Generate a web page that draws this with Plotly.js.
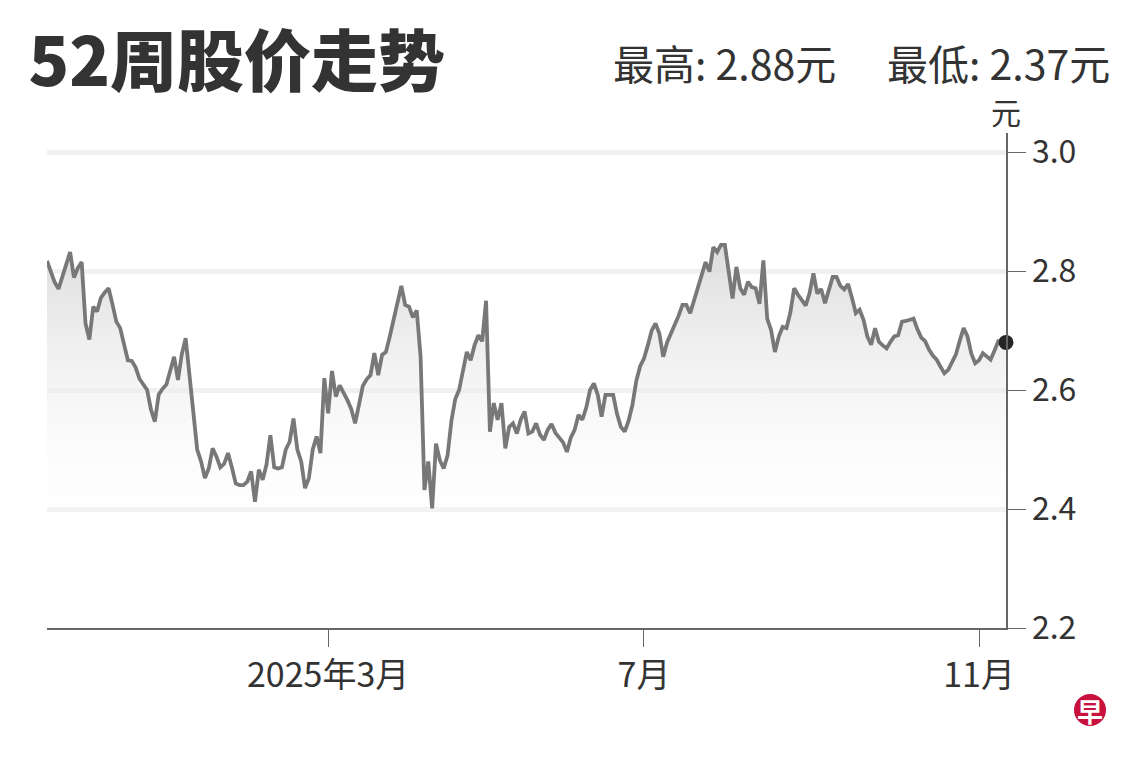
<!DOCTYPE html>
<html>
<head>
<meta charset="utf-8">
<script src="https://cdn.plot.ly/plotly-3.0.1.min.js"></script>
<style>html,body{margin:0;padding:0;background:#fff;}#chart{width:1140px;height:760px;}</style>
</head>
<body>
<div id="chart"></div>
<script>
// Daily closing prices (trading days, 52 weeks)
const prices = [
2.817,2.797,2.781,2.770,2.790,2.812,2.832,2.789,2.805,2.815,
2.712,2.685,2.740,2.732,2.755,2.764,2.771,2.744,2.715,2.704,
2.675,2.650,2.649,2.638,2.619,2.608,2.600,2.567,2.547,2.592,
2.602,2.609,2.633,2.656,2.617,2.660,2.687,2.625,2.560,2.500,
2.480,2.452,2.468,2.502,2.488,2.470,2.476,2.494,2.470,2.443,
2.440,2.440,2.446,2.463,2.412,2.466,2.449,2.475,2.524,2.470,
2.468,2.470,2.500,2.513,2.552,2.500,2.480,2.435,2.452,2.500,
2.522,2.494,2.620,2.561,2.632,2.589,2.608,2.596,2.583,2.568,
2.544,2.575,2.607,2.618,2.625,2.662,2.625,2.659,2.664,2.690,
2.717,2.750,2.775,2.743,2.740,2.722,2.734,2.656,2.432,2.480,
2.401,2.510,2.482,2.468,2.490,2.548,2.585,2.600,2.632,2.664,
2.650,2.675,2.692,2.682,2.750,2.530,2.578,2.550,2.578,2.502,
2.538,2.544,2.527,2.550,2.564,2.527,2.530,2.544,2.525,2.516,
2.533,2.543,2.528,2.519,2.512,2.496,2.520,2.533,2.558,2.550,
2.570,2.600,2.611,2.592,2.555,2.592,2.592,2.592,2.560,2.538,
2.530,2.548,2.575,2.615,2.640,2.653,2.675,2.700,2.712,2.695,
2.656,2.680,2.695,2.709,2.725,2.743,2.743,2.729,2.750,2.770,
2.790,2.815,2.799,2.840,2.832,2.844,2.844,2.797,2.754,2.807,
2.771,2.760,2.782,2.773,2.771,2.745,2.818,2.720,2.701,2.664,
2.690,2.706,2.704,2.730,2.771,2.760,2.752,2.742,2.763,2.796,
2.762,2.770,2.746,2.768,2.790,2.790,2.775,2.769,2.778,2.755,
2.729,2.735,2.718,2.690,2.676,2.704,2.681,2.675,2.670,2.681,
2.690,2.692,2.715,2.716,2.718,2.720,2.702,2.688,2.682,2.668,
2.658,2.651,2.639,2.628,2.634,2.646,2.660,2.683,2.704,2.690,
2.661,2.645,2.650,2.662,2.656,2.651,2.666,2.682,2.682,2.680
];
// Trading-day positions of month ticks and their labels
const monthTickIdx = [73, 155, 242];
const monthTickText = ['2025年3月', '7月', '11月'];
const priceTicks = [2.2, 2.4, 2.6, 2.8, 3.0];
const priceTickText = ['2.2', '2.4', '2.6', '2.8', '3.0'];
const titleText = '52周股价走势';
const highText = '最高: 2.88元';
const lowText = '最低: 2.37元';
const unitText = '元';

const font = '"Noto Sans CJK SC", "Noto Sans", sans-serif';
const lastIdx = prices.length - 1;

const traces = [
  {
    y: prices,
    type: 'scatter',
    mode: 'lines',
    line: {color: '#787878', width: 3.8},
    fill: 'tozeroy',
    fillgradient: {
      type: 'vertical',
      start: 2.33,
      stop: 2.86,
      colorscale: [[0, 'rgba(255,255,255,0)'], [1, 'rgba(216,216,216,0.95)']]
    },
    hoverinfo: 'skip'
  },
  {
    x: [lastIdx],
    y: [prices[lastIdx]],
    type: 'scatter',
    mode: 'markers',
    marker: {color: '#262626', size: 15},
    cliponaxis: false,
    hoverinfo: 'skip'
  }
];

const layout = {
  width: 1140,
  height: 760,
  paper_bgcolor: '#ffffff',
  plot_bgcolor: '#ffffff',
  showlegend: false,
  margin: {l: 47, r: 134, t: 133, b: 132},
  font: {family: font, color: '#333333'},
  title: {
    text: titleText,
    xref: 'container', yref: 'container',
    x: 0.025, xanchor: 'left',
    y: 0.948, yanchor: 'top',
    font: {family: font, size: 67, color: '#333333', weight: 900}
  },
  xaxis: {
    range: [0, lastIdx],
    tickmode: 'array',
    tickvals: monthTickIdx,
    ticktext: monthTickText,
    ticks: 'outside',
    ticklen: 17,
    tickwidth: 1,
    tickcolor: '#666666',
    showline: true,
    linecolor: '#666666',
    linewidth: 1.5,
    showgrid: false,
    zeroline: false,
    tickfont: {family: font, size: 34, color: '#333333'}
  },
  yaxis: {
    side: 'right',
    range: [2.2, 3.032],
    tickmode: 'array',
    tickvals: priceTicks,
    ticktext: priceTickText,
    ticks: 'outside',
    ticklen: 18,
    tickwidth: 1,
    tickcolor: '#666666',
    showline: true,
    linecolor: '#666666',
    linewidth: 1.5,
    showgrid: true,
    gridcolor: '#f1f1f1',
    gridwidth: 5,
    zeroline: false,
    tickfont: {family: font, size: 32, color: '#333333'}
  },
  annotations: [
    {
      text: highText,
      xref: 'paper', yref: 'paper',
      x: (838 - 47) / 959, xanchor: 'right',
      y: 1.143, yanchor: 'middle',
      showarrow: false,
      font: {family: font, size: 41, color: '#333333'}
    },
    {
      text: lowText,
      xref: 'paper', yref: 'paper',
      x: (1112 - 47) / 959, xanchor: 'right',
      y: 1.143, yanchor: 'middle',
      showarrow: false,
      font: {family: font, size: 41, color: '#333333'}
    },
    {
      text: unitText,
      xref: 'paper', yref: 'paper',
      x: 1.0, xanchor: 'center',
      y: 0.996, yanchor: 'bottom',
      showarrow: false,
      font: {family: font, size: 30, color: '#333333'}
    },
    {
      text: '早',
      xref: 'paper', yref: 'paper',
      x: 1.0876, xanchor: 'center',
      y: -0.166, yanchor: 'middle',
      showarrow: false,
      font: {family: font, size: 26, color: '#ffffff', weight: 700}
    }
  ],
  shapes: [
    {
      type: 'circle',
      xref: 'paper', yref: 'paper',
      x0: 1.0709, x1: 1.1043,
      y0: -0.198, y1: -0.1333,
      fillcolor: '#c8113d',
      line: {width: 0}
    }
  ]
};

Plotly.newPlot('chart', traces, layout, {displayModeBar: false, staticPlot: true});
</script>
</body>
</html>
